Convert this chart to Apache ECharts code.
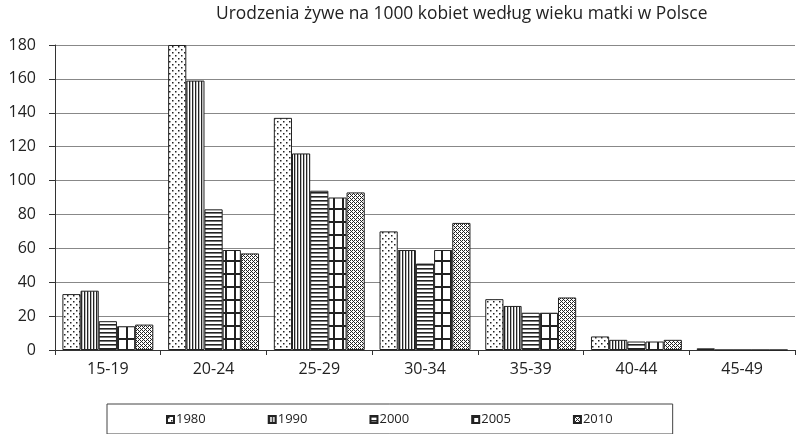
<!DOCTYPE html>
<html>
<head>
<meta charset="utf-8">
<script src="https://cdn.jsdelivr.net/npm/echarts@6/dist/echarts.min.js"></script>
<style>
  html, body { margin: 0; padding: 0; background: #fff; }
  #chart { width: 801px; height: 434px; }
</style>
</head>
<body>
<div id="chart"></div>
<script>
var categories = ['15-19', '20-24', '25-29', '30-34', '35-39', '40-44', '45-49'];
var years = ['1980', '1990', '2000', '2005', '2010'];
var v1980 = [33, 180, 137, 70, 30, 8, 1];
var v1990 = [35, 159, 116, 59, 26, 6, 0];
var v2000 = [17, 83, 94, 51, 22, 5, 0];
var v2005 = [14, 59, 90, 59, 22, 5, 0];
var v2010 = [15, 57, 93, 75, 31, 6, 0];

// wzory wypełnienia słupków
function makePattern(w, h, draw) {
  var c = document.createElement('canvas');
  c.width = w;
  c.height = h;
  var ctx = c.getContext('2d');
  ctx.fillStyle = '#fff';
  ctx.fillRect(0, 0, w, h);
  ctx.fillStyle = '#222';
  draw(ctx);
  return { image: c, repeat: 'repeat' };
}

var patterns = [
  // kropki
  makePattern(6, 6, function (ctx) {
    ctx.fillRect(1, 1, 1.5, 1.5);
    ctx.fillRect(4, 4, 1.5, 1.5);
  }),
  // pionowe paski
  makePattern(3, 3, function (ctx) {
    ctx.fillRect(0, 0, 1.3, 3);
  }),
  // poziome paski
  makePattern(4, 4, function (ctx) {
    ctx.fillRect(0, 0, 4, 1.6);
  }),
  // duża kratka
  makePattern(9, 13, function (ctx) {
    ctx.fillRect(0, 0, 2, 13);
    ctx.fillRect(0, 0, 9, 2);
  }),
  // gęsta krateczka
  makePattern(4, 4, function (ctx) {
    ctx.fillRect(0, 0, 1, 1);
    ctx.fillRect(2, 0, 1, 1);
    ctx.fillRect(1, 1, 1, 1);
    ctx.fillRect(0, 2, 1, 1);
    ctx.fillRect(2, 2, 1, 1);
    ctx.fillRect(3, 3, 1, 1);
  })
];

var values = [v1980, v1990, v2000, v2005, v2010];
var series = years.map(function (y, i) {
  return {
    name: y,
    type: 'bar',
    data: values[i],
    barGap: '0%',
    barCategoryGap: '14%',
    itemStyle: {
      color: patterns[i],
      borderColor: '#222',
      borderWidth: 1
    }
  };
});

var chart = echarts.init(document.getElementById('chart'), null, { renderer: 'canvas' });
chart.setOption({
  animation: false,
  textStyle: { fontFamily: 'Open Sans, sans-serif' },
  title: {
    text: 'Urodzenia żywe na 1000 kobiet według wieku matki w Polsce',
    left: 211,
    top: 1,
    textStyle: { fontSize: 17.4, fontWeight: 'normal', color: '#222' }
  },
  grid: { left: 55, right: 6, top: 45, bottom: 84 },
  legend: {
    data: years,
    left: 107,
    top: 404,
    orient: 'horizontal',
    padding: [9, 60, 8, 59],
    itemGap: 62,
    itemWidth: 7,
    itemHeight: 7,
    icon: 'rect',
    borderColor: '#444',
    borderWidth: 1,
    textStyle: { fontSize: 13, color: '#222', padding: [0, 0, 0, -3] }
  },
  xAxis: {
    type: 'category',
    data: categories,
    axisLine: { lineStyle: { color: '#333', width: 1 } },
    axisTick: { show: true, alignWithLabel: false, length: 5, lineStyle: { color: '#333' } },
    axisLabel: { fontSize: 16, color: '#222', margin: 11 }
  },
  yAxis: {
    type: 'value',
    min: 0,
    max: 180,
    interval: 20,
    axisLine: { show: true, lineStyle: { color: '#333' } },
    axisTick: { show: true, length: 6, lineStyle: { color: '#333' } },
    axisLabel: { fontSize: 16, color: '#222', margin: 19 },
    splitLine: { lineStyle: { color: '#888', width: 1 } }
  },
  series: series
});
</script>
</body>
</html>
